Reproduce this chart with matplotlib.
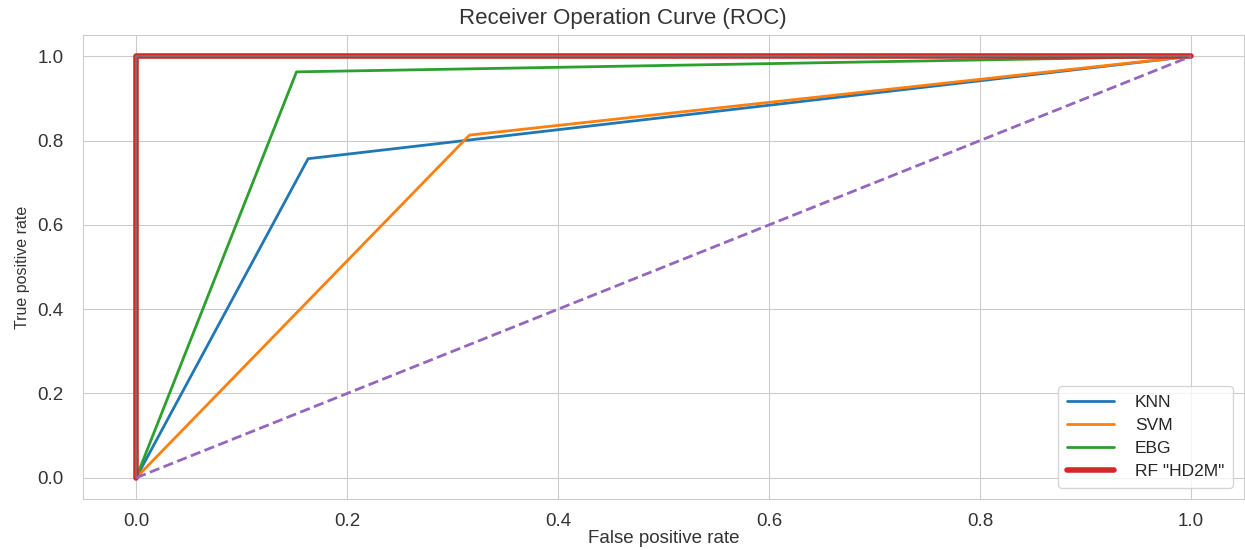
import matplotlib
matplotlib.use("Agg")
import matplotlib.pyplot as plt
import seaborn as sns

sns.set_style("whitegrid")
plt.rcParams['font.family'] = ['Liberation Sans', 'DejaVu Sans']

knn_fpr = [0.0, 0.163, 1.0]
knn_tpr = [0.0, 0.757, 1.0]
svm_fpr = [0.0, 0.316, 1.0]
svm_tpr = [0.0, 0.813, 1.0]
ebg_fpr = [0.0, 0.152, 1.0]
ebg_tpr = [0.0, 0.963, 1.0]
rf_fpr = [0.0, 0.0, 1.0]
rf_tpr = [0.0, 1.0, 1.0]
diag = [0.0, 1.0]

fig = plt.figure(figsize=(12.45, 5.5), dpi=100)
ax = fig.add_axes([0.067, 0.093, 0.932, 0.843])

ax.plot(knn_fpr, knn_tpr, color='tab:blue', lw=2, label='KNN')
ax.plot(svm_fpr, svm_tpr, color='tab:orange', lw=2, label='SVM')
ax.plot(ebg_fpr, ebg_tpr, color='tab:green', lw=2, label='EBG')
ax.plot(rf_fpr, rf_tpr, color='tab:red', lw=4, label='RF "HD2M"')
ax.plot(rf_fpr, rf_tpr, color='#777777', lw=1.2)
ax.plot(diag, diag, color='tab:purple', lw=2, ls='--')

ax.set_xlim(-0.05, 1.05)
ax.set_ylim(-0.05, 1.05)
ax.set_xticks([0.0, 0.2, 0.4, 0.6, 0.8, 1.0])
ax.set_yticks([0.0, 0.2, 0.4, 0.6, 0.8, 1.0])
ax.tick_params(axis='x', labelsize=13.5, colors='#333333', pad=7)
ax.tick_params(axis='y', labelsize=13.5, colors='#333333', pad=11)
fig.suptitle('Receiver Operation Curve (ROC)', fontsize=16, color='#333333',
             x=0.5, y=0.967, va='center')
ax.set_xlabel('False positive rate', fontsize=13.5, color='#333333', labelpad=0)
ax.set_ylabel('True positive rate', fontsize=11.5, color='#333333', labelpad=5)
ax.legend(loc='lower right', fontsize=12.5, handlelength=2.7, handletextpad=1.2,
          labelspacing=0.45, borderpad=0.5, bbox_to_anchor=(0.998, 0.005))

fig.savefig('out.png', dpi=100)
